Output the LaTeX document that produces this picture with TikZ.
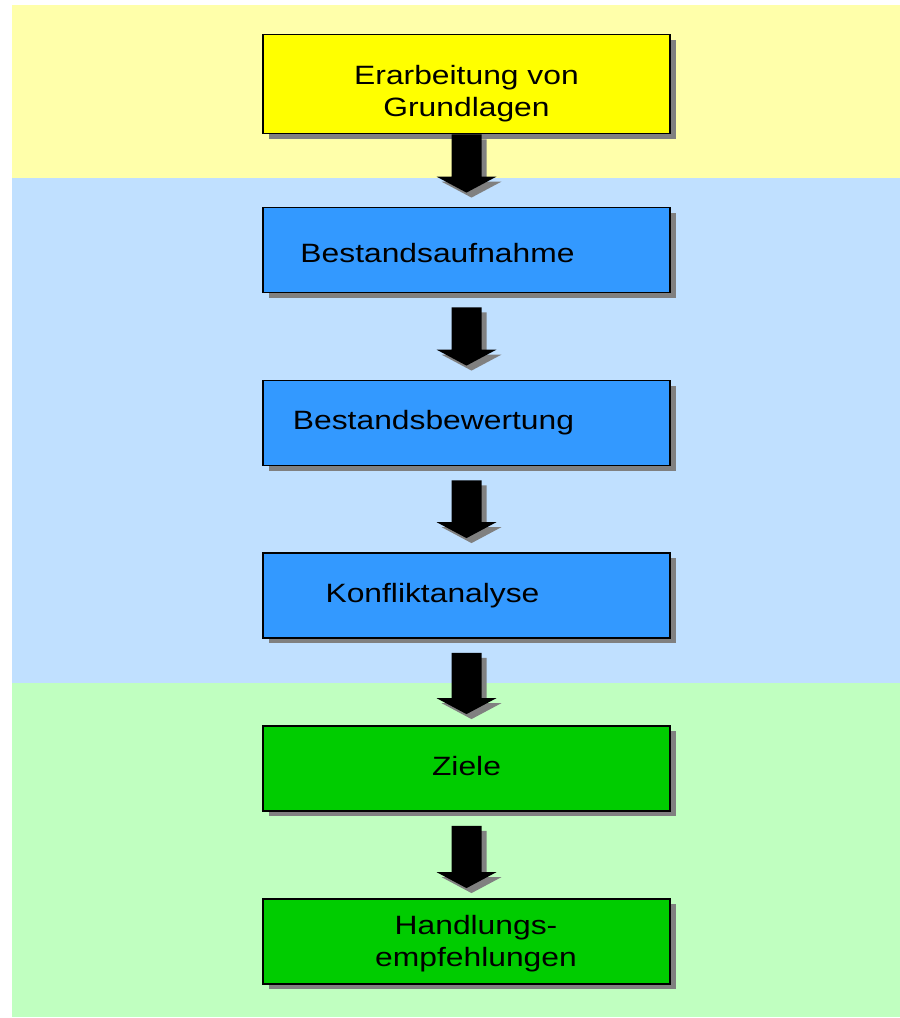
\documentclass[tikz,border=0pt]{standalone}
\usepackage{fontspec}
\setmainfont[FakeStretch=1.2]{Liberation Sans}
\usetikzlibrary{shadows,calc}

\definecolor{bandyellow}{RGB}{255,255,170}
\definecolor{bandblue}{RGB}{192,224,255}
\definecolor{bandgreen}{RGB}{192,255,192}
\definecolor{boxyellow}{RGB}{255,255,0}
\definecolor{boxblue}{RGB}{51,153,255}
\definecolor{boxgreen}{RGB}{0,204,0}
\definecolor{shadowgray}{RGB}{128,128,128}

\tikzset{
  stepbox/.style={draw=black, line width=1.8pt, minimum width=407pt, minimum height=85pt, inner sep=0pt,
    drop shadow={shadow xshift=6pt, shadow yshift=-5pt, fill=shadowgray, opacity=1}},
  boxtext/.style={anchor=base, align=center, font=\fontsize{26.5}{32}\selectfont},
  blockarrow/.style={fill=black, drop shadow={shadow xshift=5pt, shadow yshift=-5pt, fill=shadowgray, opacity=1}}
}
\newcommand{\blockarrow}[2]{%
  \fill[blockarrow] ($(#1)+(-15,0)$) -- ($(#1)+(15,0)$) -- ($(#2)+(15,-16)$) -- ($(#2)+(30,-16)$)
    -- (#2) -- ($(#2)+(-30,-16)$) -- ($(#2)+(-15,-16)$) -- cycle;}

\begin{document}
\begin{tikzpicture}[x=1pt, y=-1pt]
\useasboundingbox (0,0) rectangle (900,1018);
% bands
\fill [bandyellow] (12,5) rectangle (900,178);
\fill [bandblue] (12,178) rectangle (900,683);
\fill [bandgreen] (12,683) rectangle (900,1017);
% boxes
\node [stepbox, fill=boxyellow, minimum height=99pt] (grundlagen) at (466.5,84) {};
\node [stepbox, fill=boxblue] (aufnahme) at (466.5,250) {};
\node [stepbox, fill=boxblue] (bewertung) at (466.5,423) {};
\node [stepbox, fill=boxblue] (konflikt) at (466.5,595.5) {};
\node [stepbox, fill=boxgreen] (ziele) at (466.5,768.5) {};
\node [stepbox, fill=boxgreen] (handlung) at (466.5,941.5) {};
% texts
\node [boxtext] (t1) at (grundlagen.center) [yshift = -32.7pt] {Erarbeitung von\\Grundlagen};
\node [boxtext] (t2) at (aufnahme.center) [xshift = -29pt, yshift = -12.5pt] {Bestandsaufnahme};
\node [boxtext] (t3) at (bewertung.center) [xshift = -33pt, yshift = -6.5pt] {Bestandsbewertung};
\node [boxtext] (t4) at (konflikt.center) [xshift = -34pt, yshift = -7pt] {Konfliktanalyse};
\node [boxtext] (t5) at (ziele.center) [yshift = -6.5pt] {Ziele};
\node [boxtext] (t6) at (handlung.center) [xshift = 9.5pt, yshift = -25.2pt] {Handlungs-\\empfehlungen};
% arrows
\blockarrow{grundlagen.south}{$(aufnahme.north)+(0,-14)$}
\blockarrow{$(aufnahme.south)+(0,14)$}{$(bewertung.north)+(0,-14)$}
\blockarrow{$(bewertung.south)+(0,14)$}{$(konflikt.north)+(0,-14)$}
\blockarrow{$(konflikt.south)+(0,14)$}{$(ziele.north)+(0,-11)$}
\blockarrow{$(ziele.south)+(0,14)$}{$(handlung.north)+(0,-10)$}
\end{tikzpicture}
\end{document}
